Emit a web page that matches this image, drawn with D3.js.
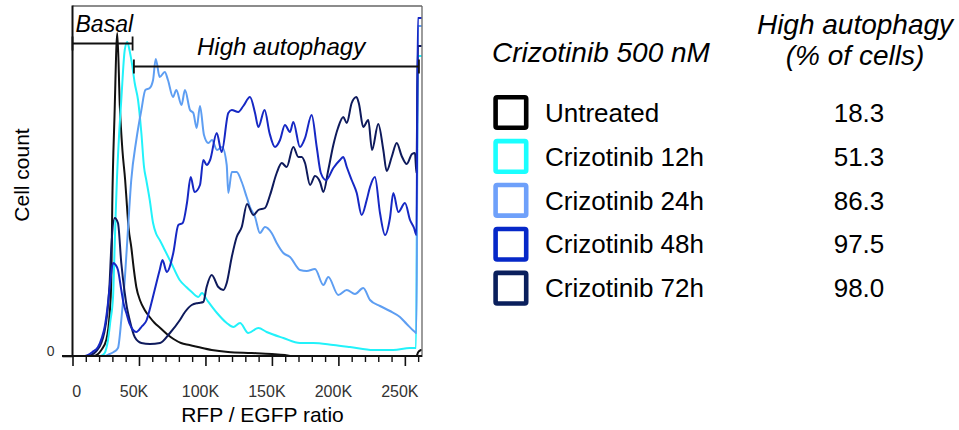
<!DOCTYPE html>
<html>
<head>
<meta charset="utf-8">
<script src="https://cdn.jsdelivr.net/npm/d3@7/dist/d3.min.js"></script>
<style>
  html, body { margin: 0; padding: 0; background: #fff; }
  svg { display: block; font-family: "Liberation Sans", Arial, sans-serif; }
</style>
</head>
<body>
<svg id="chart" width="959" height="430"></svg>
<script>
// RFP / EGFP ratio in thousands (K), cell count per bin
const untreated = [[0,0],[16,0],[19.2,2],[21.7,6],[25.4,16],[28,43],[29.2,76],[29.9,150],[31.6,240],[33.7,323],[35.6,250],[37.6,205],[39.6,176],[40.5,159],[42.2,128],[44.2,109],[46.2,86],[48,69],[51,55],[54.3,46],[58,39],[61.8,33],[66,28],[71.8,21],[76,17],[81.6,13],[88,11],[94.4,9],[104.7,6],[117,4],[134.8,3],[150,2],[159.8,1],[165,0],[258.7,0],[260.1,4],[262.1,6]];

const criz12h = [[0,0],[20,0],[22.5,1],[24.2,3],[26.7,16],[28.5,35],[30.5,59],[31.7,109],[32.5,143],[33.4,176],[35,220],[36.7,256],[39.3,306],[41.2,314],[43,305],[45,290],[46.8,273],[49.3,256],[51.8,223],[53.8,189],[55.5,176],[58.1,156],[60.6,133],[63,122],[65.6,116],[69.4,106],[74.3,93],[80.6,76],[85.6,69],[89.7,64],[94.6,59],[97.4,63],[101.2,56],[108.7,43],[116,33],[121,29],[126,33],[132.2,23],[139.8,28],[146,24],[158.6,18],[171.1,13],[181,13],[196.2,11],[208.7,9],[226.3,6],[241.3,6],[253.9,8],[258.4,8],[259.8,300],[262.1,300]];

const criz24h = [[0,0],[24,0],[28,2],[31,4],[34.2,8],[36.7,36],[39.3,76],[41.7,126],[44.2,176],[48,216],[51.8,246],[54.8,266],[58.1,268],[60.6,276],[62.6,297],[65.6,279],[69.4,284],[71.8,276],[75.6,259],[78.1,266],[82,251],[84.6,266],[88.4,246],[90.9,243],[93.4,228],[95.9,250],[98.9,221],[102.2,213],[104.9,216],[108.7,206],[112.5,209],[116,191],[117.2,163],[119.8,184],[123.5,184],[127.3,174],[131,159],[133.5,149],[137.3,139],[141,123],[144.8,129],[149.8,123],[153.6,113],[158.6,103],[163.6,99],[171.1,86],[176.2,85],[182.4,87],[188.7,71],[192.4,79],[199.9,61],[206.3,66],[212.5,62],[218.7,68],[223.8,56],[231.3,50],[238.8,45],[246.3,39],[251.4,32],[257.6,24],[258.7,23],[259.8,330],[262.1,330]];

const criz48h = [[0,0],[9,0],[11.7,1],[15,4],[19.2,9],[22,18],[24.2,29],[26,45],[28,69],[30.5,93],[32.5,91],[34.2,86],[36.7,66],[38.5,52],[40.5,43],[43,32],[45.5,26],[48,24],[50,26],[51.8,29],[55.8,36],[58,46],[61.8,66],[65.6,86],[67.7,96],[70.9,84],[75.8,103],[79.6,131],[82.9,133],[86.1,153],[88.9,179],[91.8,164],[95.9,171],[98.4,196],[101,191],[103.5,196],[108.5,223],[112.2,204],[117.2,243],[119.8,246],[124.7,244],[128.5,250],[133.5,259],[137.3,243],[139.8,229],[144.5,246],[148.2,223],[152.3,209],[156.1,216],[159.8,231],[163.6,224],[166.1,234],[171.1,209],[174.9,218],[179.9,241],[183.7,209],[186.8,183],[190.7,176],[196.2,188],[201.2,196],[203.7,199],[206.3,189],[210,176],[213.8,163],[217.5,141],[221.3,156],[223.8,169],[227.5,179],[231.3,143],[235.1,121],[238.8,138],[241.3,163],[245.1,144],[250.1,153],[253.9,136],[256.9,128],[258.7,121],[259.8,338],[262.1,338]];

const criz72h = [[0,0],[11,0],[14.1,1],[18,5],[21.7,13],[24,24],[26.2,43],[27.8,70],[29.2,109],[31.7,138],[34.2,133],[36.7,93],[39.3,63],[41,48],[43,36],[46.8,19],[51.8,13],[58.3,12],[65.8,13],[73.3,23],[80.8,36],[84.6,44],[89.7,51],[94.6,53],[98.4,54],[100.9,69],[104.7,81],[109.7,69],[113.4,66],[116,73],[119.8,99],[123.5,119],[127.3,129],[131.3,152],[136,141],[139.8,146],[144.8,148],[148.6,161],[153.6,183],[157.4,193],[161.1,189],[166.1,209],[169.9,199],[172.4,199],[174.9,193],[178.7,171],[182.4,180],[186.2,174],[188.7,164],[192.4,186],[196.2,211],[199.7,228],[203.7,239],[206.3,233],[210,253],[213.6,259],[215.5,252],[218.7,229],[222.5,236],[225.3,206],[230,232],[233.8,206],[236.3,185],[240.1,199],[243.9,213],[247.6,200],[251.4,192],[255.4,202],[257.6,203],[258.7,183],[259.8,310],[262.1,310]];

const seriesLabels = ["Untreated", "Crizotinib 12h", "Crizotinib 24h", "Crizotinib 48h", "Crizotinib 72h"];
const highAutophagyPct = ["18.3", "51.3", "86.3", "97.5", "98.0"];
const seriesColors = ["#111111", "#22f2fa", "#5e9ef2", "#1628c4", "#0e1a5c"];
const boxColors = ["#000000", "#1affff", "#6ea0fa", "#0628c8", "#0a1f5c"];
const xTickValues = [0, 50, 100, 150, 200, 250];
const xMinorTicks = d3.range(10, 261, 10).filter(v => v % 50 !== 0);
const yTickValues = [0];
// gates on the ratio axis (K)
const basalGate = [0, 45.2];
const highGate = [46.2, 260.6];

const allSeries = [untreated, criz12h, criz24h, criz48h, criz72h];
const drawOrder = [0, 1, 2, 4, 3];

const svg = d3.select("#chart");
const font = '"Liberation Sans", Arial, sans-serif';

const x = d3.scaleLinear().domain([0, 262.144]).range([72.5, 421]);
const y = d3.scaleLinear().domain([0, 350]).range([356, 6]);

// histogram curves
const line = d3.line()
  .x(d => x(d[0]))
  .y(d => y(d[1]))
  .curve(d3.curveMonotoneX);

const curves = svg.append("g").attr("fill", "none")
  .attr("stroke-width", 2).attr("stroke-linejoin", "round").attr("stroke-linecap", "round");
drawOrder.forEach(i => {
  curves.append("path")
    .datum(allSeries[i])
    .attr("stroke", seriesColors[i])
    .attr("d", line);
});

// frame
svg.append("line").attr("x1", 72.5).attr("x2", 422).attr("y1", 6).attr("y2", 6)
  .attr("stroke", "#666").attr("stroke-width", 1.3);
svg.append("line").attr("x1", 422).attr("x2", 422).attr("y1", 6).attr("y2", 357)
  .attr("stroke", "#666").attr("stroke-width", 1.3);
svg.append("line").attr("x1", 72.5).attr("x2", 72.5).attr("y1", 5.5).attr("y2", 357)
  .attr("stroke", "#111").attr("stroke-width", 2);

// x axis
const xAxis = svg.append("g").attr("transform", "translate(0,356)")
  .call(d3.axisBottom(x).tickValues(xTickValues)
    .tickFormat(d => d === 0 ? "0" : d + "K")
    .tickSize(10).tickSizeOuter(0).tickPadding(20));
xAxis.select(".domain").remove();
xAxis.selectAll(".tick line").attr("stroke", "#111").attr("stroke-width", 1.6);
xAxis.selectAll(".tick text").attr("font-family", font).attr("font-size", 16).attr("fill", "#333")
  .attr("dx", d => d === 0 ? 3.7 : -5.5);

const xMinor = svg.append("g").attr("transform", "translate(0,356)")
  .call(d3.axisBottom(x).tickValues(xMinorTicks).tickFormat("").tickSize(6).tickSizeOuter(0));
xMinor.select(".domain").remove();
xMinor.selectAll(".tick line").attr("stroke", "#111").attr("stroke-width", 1.4);

svg.append("line").attr("x1", 62).attr("x2", 422).attr("y1", 356).attr("y2", 356)
  .attr("stroke", "#111").attr("stroke-width", 2);

// y axis
const yAxis = svg.append("g").attr("transform", "translate(72.5,0)")
  .call(d3.axisLeft(y).tickValues(yTickValues).tickFormat(d3.format("d"))
    .tickSize(10).tickSizeOuter(0).tickPadding(8));
yAxis.select(".domain").remove();
yAxis.selectAll(".tick line").attr("stroke", "#111").attr("stroke-width", 1.6);
yAxis.selectAll(".tick text").attr("font-family", font).attr("font-size", 14)
  .attr("fill", "#333").attr("dy", "-0.07em");

// axis titles
svg.append("text").attr("x", 262.5).attr("y", 421.5).attr("text-anchor", "middle")
  .attr("font-size", 21).attr("fill", "#000").text("RFP / EGFP ratio");
svg.append("text").attr("transform", "translate(29,175) rotate(-90)").attr("text-anchor", "middle")
  .attr("font-size", 21).attr("fill", "#000").text("Cell count");

// gate brackets
function bracket(gate, yPix) {
  const g = svg.append("g").attr("stroke", "#111").attr("stroke-width", 1.8);
  g.append("line").attr("x1", x(gate[0])).attr("x2", x(gate[1])).attr("y1", yPix).attr("y2", yPix);
  [gate[0], gate[1]].forEach(v => {
    g.append("line").attr("x1", x(v)).attr("x2", x(v)).attr("y1", yPix - 7).attr("y2", yPix + 7);
  });
}
bracket(basalGate, 43.5);
bracket(highGate, 66.5);
svg.append("text").attr("x", 75.5).attr("y", 31.5).attr("font-size", 23).attr("font-style", "italic")
  .attr("fill", "#000").text("Basal");
svg.append("text").attr("x", 197).attr("y", 55).attr("font-size", 24).attr("font-style", "italic")
  .attr("fill", "#000").text("High autophagy");

// legend
const legend = svg.append("g");
legend.append("text").attr("x", 492).attr("y", 61.5).attr("font-size", 28).attr("font-style", "italic")
  .text("Crizotinib 500 nM");
legend.append("text").attr("x", 855).attr("y", 33.5).attr("text-anchor", "middle")
  .attr("font-size", 28).attr("font-style", "italic").text("High autophagy");
legend.append("text").attr("x", 855).attr("y", 65).attr("text-anchor", "middle")
  .attr("font-size", 28).attr("font-style", "italic").text("(% of cells)");

const rowY = d3.scalePoint().domain(seriesLabels).range([112.5, 288.2]);
const rows = legend.selectAll("g.row").data(seriesLabels).join("g").attr("class", "row")
  .attr("transform", d => `translate(0,${rowY(d)})`);
rows.append("rect").attr("x", 495.6).attr("y", -15.3).attr("width", 30.6).attr("height", 30.6)
  .attr("rx", 1.5).attr("fill", "#fff").attr("stroke-width", 4.6)
  .attr("stroke", (d, i) => boxColors[i]);
rows.append("text").attr("x", 545).attr("y", 9.2).attr("font-size", 26).text(d => d);
rows.append("text").attr("x", 859).attr("y", 9.2).attr("text-anchor", "middle")
  .attr("font-size", 26).text((d, i) => highAutophagyPct[i]);
</script>
</body>
</html>
